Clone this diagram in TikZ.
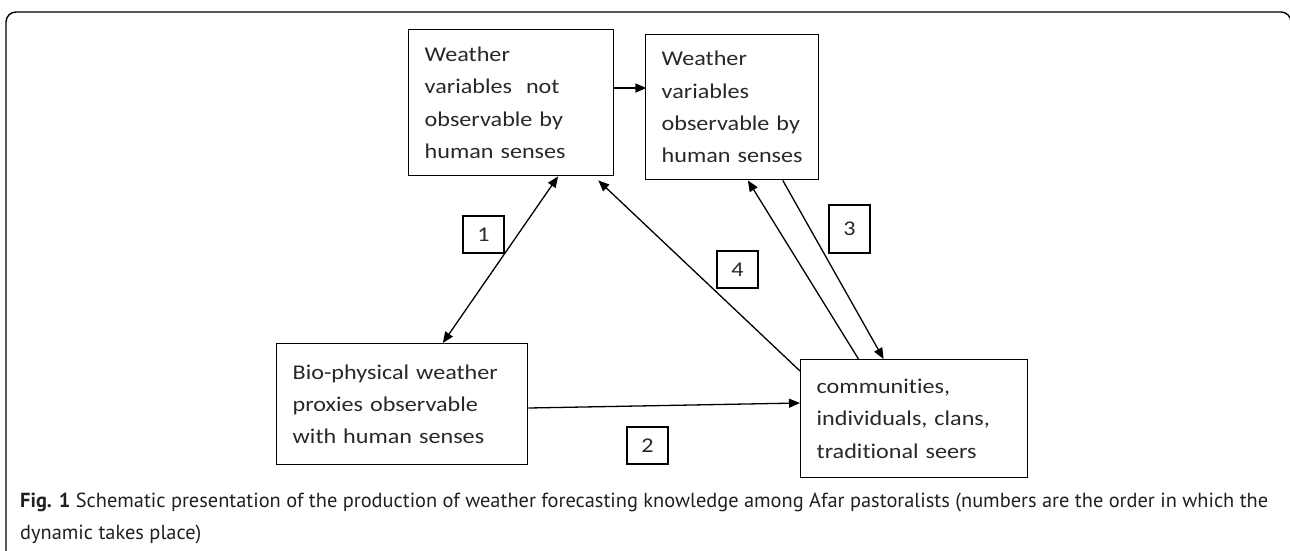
\documentclass[tikz,border=0pt]{standalone}
\usepackage{fontspec}
\setmainfont{Carlito}
\newfontfamily\boxfont{Carlito}[FakeStretch=1.15,Ligatures=NoCommon]
\newfontfamily\capfont{PT Sans}
\usetikzlibrary{arrows.meta,calc}
\definecolor{txt}{RGB}{40,40,40}
\definecolor{captxt}{RGB}{35,31,32}
\newlength\capw
\newcommand\capone{\textbf{Fig. 1} Schematic presentation of the production of weather forecasting knowledge among Afar pastoralists (numbers are the order in which the}
\newcommand\captwo{dynamic takes place)}
\newcommand\capfnt{\capfont\fontsize{20}{24}\selectfont}
\begin{document}
\settowidth\capw{\capfnt\capone}%
\pgfmathsetmacro\capscale{1248/\capw}%
\begin{tikzpicture}[x=1pt,y=-1pt,
  box/.style={draw, line width=1.4pt, anchor=north west, inner xsep=16pt, inner ysep=0pt,
    align=left, text=txt, font=\boxfont\fontsize{21}{32.3}\selectfont},
  numbox/.style={draw, line width=1.3pt, inner sep=0pt, text=txt,
    font=\boxfont\fontsize{21}{25}\selectfont},
  conn/.style={line width=1.3pt, draw=black},
  tip/.style={-{Triangle[length=11pt,width=9pt]}},
  captext/.style={anchor=base west, text=captxt, inner sep=0pt}
]
\useasboundingbox (0,0) rectangle (1290,550);
% outer frame
\draw[line width=1.4pt, rounded corners=10pt] (6,570) -- (6,12) -- (1291,12) -- (1291,570);

% boxes
\node[box, text width=173pt, minimum height=146pt] (A) at (408,29)
  {\mbox{Weather}\\\mbox{variables\ \ not}\\\mbox{observable by}\\\mbox{human senses}};
\node[box, text width=141pt, minimum height=145pt] (B) at (645,34)
  {\mbox{Weather}\\\mbox{variables}\\\mbox{observable by}\\\mbox{human senses}};
\node[box, text width=219pt, minimum height=121pt] (C) at (276,343)
  {\mbox{Bio-physical weather}\\\mbox{proxies observable}\\\mbox{with human senses}};
\node[box, text width=195pt, minimum height=118pt] (D) at (800,359)
  {\mbox{communities,}\\\mbox{individuals, clans,}\\\mbox{traditional seers}};

% number labels
\node[numbox, minimum width=41pt, minimum height=37pt] (n1) at (483.5,234.5) {1};
\node[numbox, minimum width=41pt, minimum height=37pt] (n2) at (647.5,445.5) {2};
\node[numbox, minimum width=41pt, minimum height=48pt] (n3) at (849.5,229) {3};
\node[numbox, minimum width=41pt, minimum height=37pt] (n4) at (737.5,269.5) {4};

% connectors
\draw[conn, tip] ($(A.north east)+(0,59)$) -- ($(A.north east)+(32,59)$) coordinate (ab);
\draw[conn, {Triangle[length=11pt,width=9pt]}-{Triangle[length=11pt,width=9pt]}]
  ($(A.south west)!0.727!(A.south east)$) -- ($(C.north west)!0.661!(C.north east)$);
\draw[conn, tip] ($(C.north east)+(0,65)$) -- ($(D.north west)+(0,44)$);
\draw[conn, tip] ($(D.north west)+(0,12)$) -- ($(A.south west)!0.922!(A.south east)+(0,4)$);
\draw[conn, tip] ($(D.north west)!0.256!(D.north east)$) -- ($(B.south west)!0.59!(B.south east)$);
\draw[conn, tip] ($(B.south west)!0.79!(B.south east)$) -- ($(D.north west)!0.366!(D.north east)$);

% caption
\node[captext] (cap1) at (20,507) {\scalebox{\capscale}{\capfnt\capone}};
\node[captext] (cap2) at (20,539) {\scalebox{\capscale}{\capfnt\captwo}};
\end{tikzpicture}
\end{document}
